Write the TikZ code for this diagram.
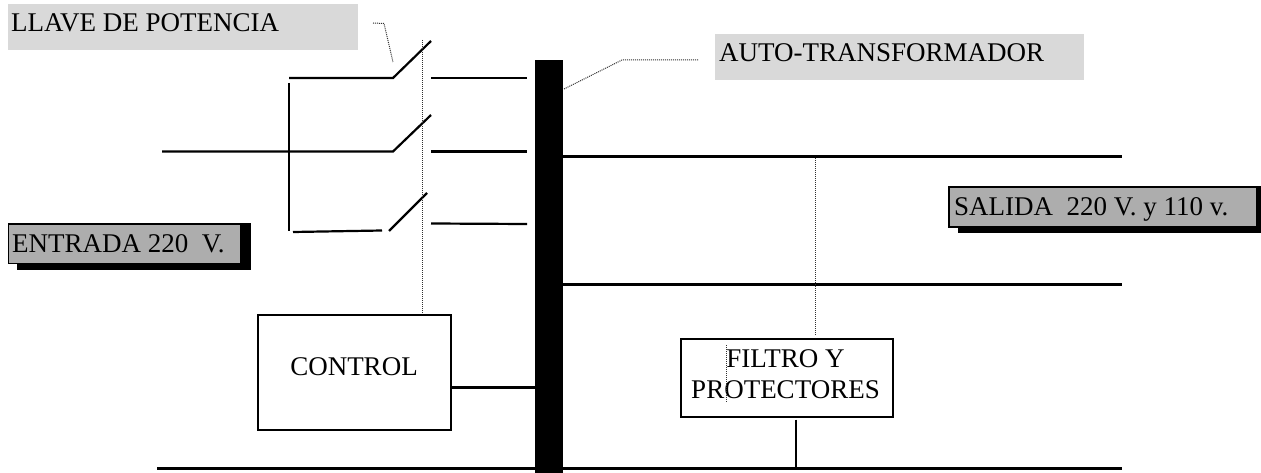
\documentclass[tikz,border=0pt]{standalone}
\usepackage{fontspec}
\setmainfont{Liberation Serif}
\definecolor{lightbox}{HTML}{D9D9D9}
\definecolor{midbox}{HTML}{ADADAD}
\definecolor{leader}{HTML}{303030}
\tikzset{
  wire/.style={line width=2.2pt,black},
  dot/.style={line width=1pt,leader,dash pattern=on 1pt off 1pt},
  lightpanel/.style={fill=lightbox,draw=none,anchor=north west,inner sep=0pt},
  shadowpanel/.style={fill=black,draw=none,anchor=north west,inner sep=0pt},
  midpanel/.style={fill=midbox,draw=black,line width=1.6pt,anchor=north west,inner sep=0pt},
  blockbox/.style={draw=black,fill=white,line width=2.2pt,anchor=north west,inner sep=0pt},
  lbl/.style={anchor=base west,inner sep=0pt,font=\fontsize{27}{31}\selectfont},
  ctr/.style={anchor=base,inner sep=0pt,font=\fontsize{27}{31}\selectfont}
}
\begin{document}
\begin{tikzpicture}[x=1pt,y=-1pt]
\useasboundingbox (0,0) rectangle (1261,473);
% label panels
\node[lightpanel,minimum width=350pt,minimum height=46pt] (llavebox) at (8,4) {};
\node[lbl] (llave) at (11,32) {LLAVE DE POTENCIA};
\node[lightpanel,minimum width=369pt,minimum height=46pt] (autobox) at (715,34) {};
\node[lbl] (auto) at (719,62) {AUTO-TRANSFORMADOR};
\node[shadowpanel,minimum width=234pt,minimum height=47pt] (entshadow) at (17,223) {};
\node[midpanel,minimum width=232pt,minimum height=39pt] (entbox) at (7.5,223.5) {};
\node[lbl] (entrada) at (12,252) {ENTRADA 220~~V.};
\node[shadowpanel,minimum width=303pt,minimum height=47pt] (salshadow) at (958,186) {};
\node[midpanel,minimum width=308pt,minimum height=40pt] (salbox) at (948,186.5) {};
\node[lbl] (salida) at (954,215) {SALIDA~~220 V. y 110 v.};
% coordinates
\coordinate (l1a) at (289,78); \coordinate (l1b) at (393,78); \coordinate (b1) at (431,41);
\coordinate (r1a) at (431,78); \coordinate (r1b) at (527,78);
\coordinate (l2a) at (162,151.5); \coordinate (l2b) at (393,151.5); \coordinate (b2) at (431,115);
\coordinate (r2a) at (431,151.5); \coordinate (r2b) at (527,151.5);
\coordinate (l3a) at (293,232); \coordinate (l3b) at (382,230.5);
\coordinate (b3s) at (389,231); \coordinate (b3) at (427,193);
\coordinate (r3a) at (431,223.5); \coordinate (r3b) at (527,224);
\coordinate (va) at (289,83); \coordinate (vb) at (289,231);
\coordinate (o1a) at (562,156.5); \coordinate (o1b) at (1122,156.5);
\coordinate (o2a) at (562,284.5); \coordinate (o2b) at (1122,284.5);
\coordinate (bota) at (157,468.5); \coordinate (botb) at (1122,468.5);
\coordinate (ctrlbar) at (535,387.5);
\coordinate (ftap) at (796,468.5);
\coordinate (d1a) at (422,40);
\coordinate (d2a) at (815,158); \coordinate (d2b) at (815,335);
\coordinate (d3a) at (726,345); \coordinate (d3b) at (726,403);
\coordinate (ll1) at (373,23); \coordinate (ll2) at (384,23.5); \coordinate (ll3) at (393,62);
\coordinate (al1) at (564,89); \coordinate (al2) at (622,60); \coordinate (al3) at (699,60);
% wires
\draw[wire] (l1a) -- (l1b) -- (b1);
\draw[wire] (r1a) -- (r1b);
\draw[wire] (l2a) -- (l2b) -- (b2);
\draw[wire] (r2a) -- (r2b);
\draw[wire] (l3a) -- (l3b);
\draw[wire] (b3s) -- (b3);
\draw[wire] (r3a) -- (r3b);
\draw[wire] (va) -- (vb);
\draw[wire] (o1a) -- (o1b);
\draw[wire] (o2a) -- (o2b);
\draw[wire] (bota) -- (botb);
% blocks
\node[blockbox,minimum width=193pt,minimum height=115pt] (control) at (257,314) {};
\node[ctr] (controltxt) at (354,375) {CONTROL};
\node[blockbox,minimum width=212pt,minimum height=78pt] (filtro) at (679.5,337.5) {};
\node[ctr] (filtrotxt) at (785.5,367) {FILTRO Y};
\node[ctr] (protxt) at (785.5,398) {PROTECTORES};
\draw[wire] (control.east |- ctrlbar) -- (ctrlbar);
\draw[wire] (ftap |- filtro.south) ++(0,2) -- (ftap);
% dotted leaders
\draw[dot] (d1a) -- (d1a |- control.north);
\draw[dot] (d2a) -- (d2b);
\draw[dot] (d3a) -- (d3b);
\draw[dot] (ll1) -- (ll2) -- (ll3);
\draw[dot] (al1) -- (al2) -- (al3);
% bar
\fill[black] (535,60) rectangle (563,473);
\end{tikzpicture}
\end{document}
